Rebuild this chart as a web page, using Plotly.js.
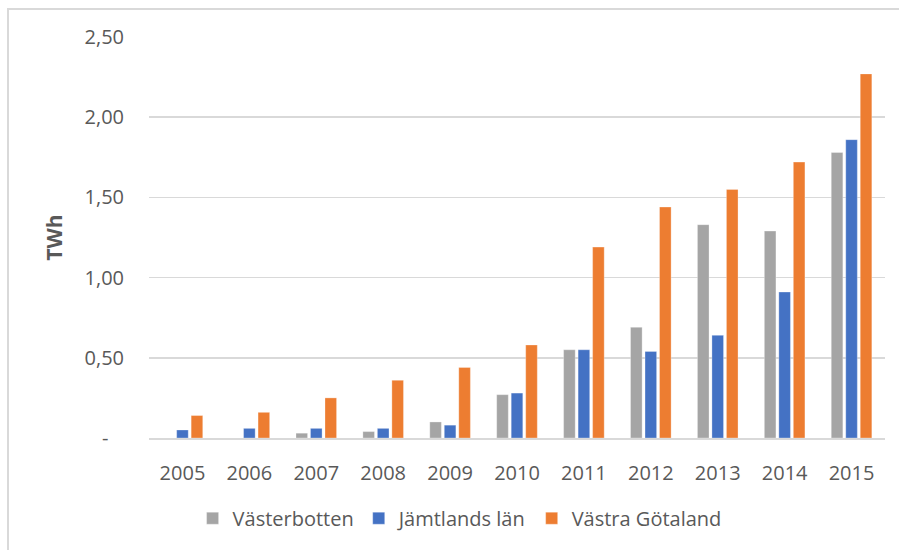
<!DOCTYPE html>
<html>
<head>
<meta charset="utf-8">
<script src="https://cdn.plot.ly/plotly-3.0.1.min.js"></script>
<style>
html,body{margin:0;padding:0;background:#fff;overflow:hidden;}
#wrap{position:relative;width:899px;height:550px;}
#chart{width:899px;height:550px;}
#frame{position:absolute;left:7px;top:8px;width:1000px;height:1000px;border:2px solid #D9D9D9;pointer-events:none;}
</style>
</head>
<body>
<div id="wrap"><div id="chart"></div><div id="frame"></div></div>
<script>
const years = ['2005','2006','2007','2008','2009','2010','2011','2012','2013','2014','2015'];
const vasterbotten = [0, 0, 0.03, 0.04, 0.10, 0.27, 0.55, 0.69, 1.33, 1.29, 1.78];
const jamtland = [0.05, 0.06, 0.06, 0.06, 0.08, 0.28, 0.55, 0.54, 0.64, 0.91, 1.86];
const vastraGotaland = [0.14, 0.16, 0.25, 0.36, 0.44, 0.58, 1.19, 1.44, 1.55, 1.72, 2.27];
const seriesNames = ['Västerbotten', 'Jämtlands län', 'Västra Götaland'];
const tickVals = [0, 0.5, 1.0, 1.5, 2.0, 2.5];
const tickText = ['-\u00a0\u00a0\u00a0', '0,50', '1,00', '1,50', '2,00', '2,50'];

const colors = ['#A5A5A5', '#4472C4', '#ED7D31'];
const series = [vasterbotten, jamtland, vastraGotaland];
const font = {family: 'Open Sans, sans-serif', size: 20, color: '#595959'};

const traces = series.map((vals, i) => ({
  type: 'bar',
  name: seriesNames[i],
  x: years,
  y: vals,
  marker: {color: colors[i], line: {color: 'rgba(255,255,255,0.6)', width: 0.5}},
  hoverinfo: 'x+y+name'
}));

const layout = {
  width: 899, height: 550,
  margin: {l: 149, r: 14, t: 37, b: 112},
  paper_bgcolor: '#fff', plot_bgcolor: '#fff',
  font: font,
  barmode: 'group',
  bargap: 0.35,
  bargroupgap: 0.2,
  showlegend: true,
  legend: {orientation: 'h', x: 0.422, xanchor: 'center', y: -0.2, yanchor: 'middle',
           font: font, traceorder: 'normal', itemwidth: 30},
  xaxis: {
    type: 'category',
    showgrid: false,
    showline: true, linecolor: '#D9D9D9', linewidth: 1.5,
    ticks: '', ticklabelstandoff: 16,
    tickfont: font
  },
  yaxis: {
    range: [0, 2.5],
    tickvals: tickVals, ticktext: tickText,
    showgrid: true, gridcolor: '#D9D9D9', gridwidth: 1.5,
    zeroline: false, showline: false,
    ticks: '', ticklabelstandoff: 24,
    tickfont: font,
    title: {text: '<b>TWh</b>', font: {family: 'Open Sans, sans-serif', size: 21, color: '#595959'}, standoff: 16}
  }
};

Plotly.newPlot('chart', traces, layout, {displayModeBar: false, staticPlot: true});
</script>
</body>
</html>
